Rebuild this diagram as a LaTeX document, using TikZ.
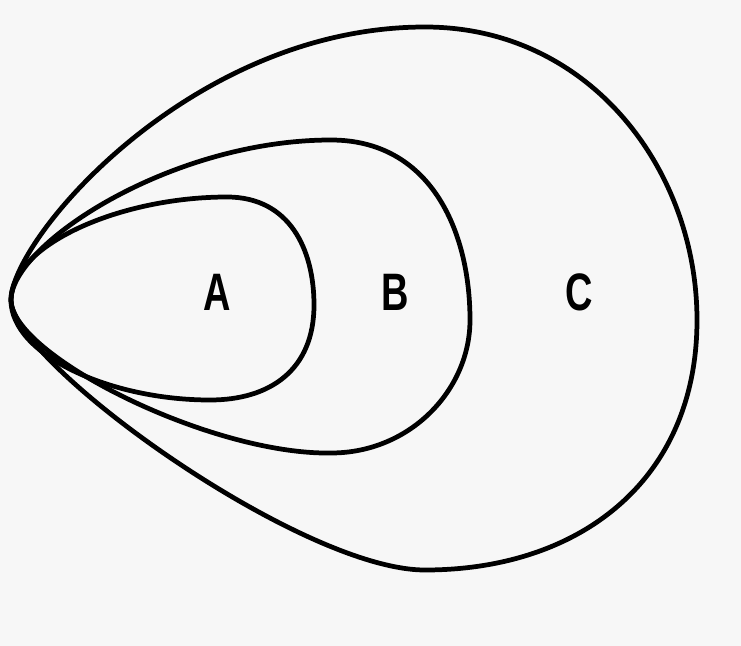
\documentclass[tikz,border=0pt]{standalone}
\usepackage{fontspec}
\setmainfont{Liberation Sans}
\definecolor{paper}{RGB}{247,247,247}
\tikzset{
  region/.style={draw=black, line width=2.7pt, line join=round},
  lbl/.style={font=\fontsize{30}{34}\selectfont\bfseries, inner sep=0pt, xscale=0.72, transform shape}
}
\begin{document}
\begin{tikzpicture}[x=0.02cm, y=-0.02cm]
\fill[paper] (0,0) rectangle (741,646);
\useasboundingbox (0,0) rectangle (741,646);
% C
\draw[region] (11,300) .. controls (11,240) and (190,27) .. (425,27)
  .. controls (590,27) and (697,170) .. (697,320)
  .. controls (697,480) and (580,570) .. (425,570)
  .. controls (300,570) and (11,362) .. (11,300) -- cycle;
% B
\draw[region] (11,300) .. controls (11,245) and (170,140) .. (331,140)
  .. controls (430,140) and (470,230) .. (470,320)
  .. controls (470,390) and (410,453) .. (331,453)
  .. controls (210,455) and (11,355) .. (11,300) -- cycle;
% A
\draw[region] (11,300) .. controls (11,245) and (120,197) .. (227,197)
  .. controls (290,197) and (314,250) .. (314,305)
  .. controls (314,370) and (270,400) .. (210,400)
  .. controls (110,400) and (11,355) .. (11,300) -- cycle;
\node[lbl] (A) at (217,292) {A};
\node[lbl] (B) at (395,292) {B};
\node[lbl] (C) at (579,292) {C};
\end{tikzpicture}
\end{document}
